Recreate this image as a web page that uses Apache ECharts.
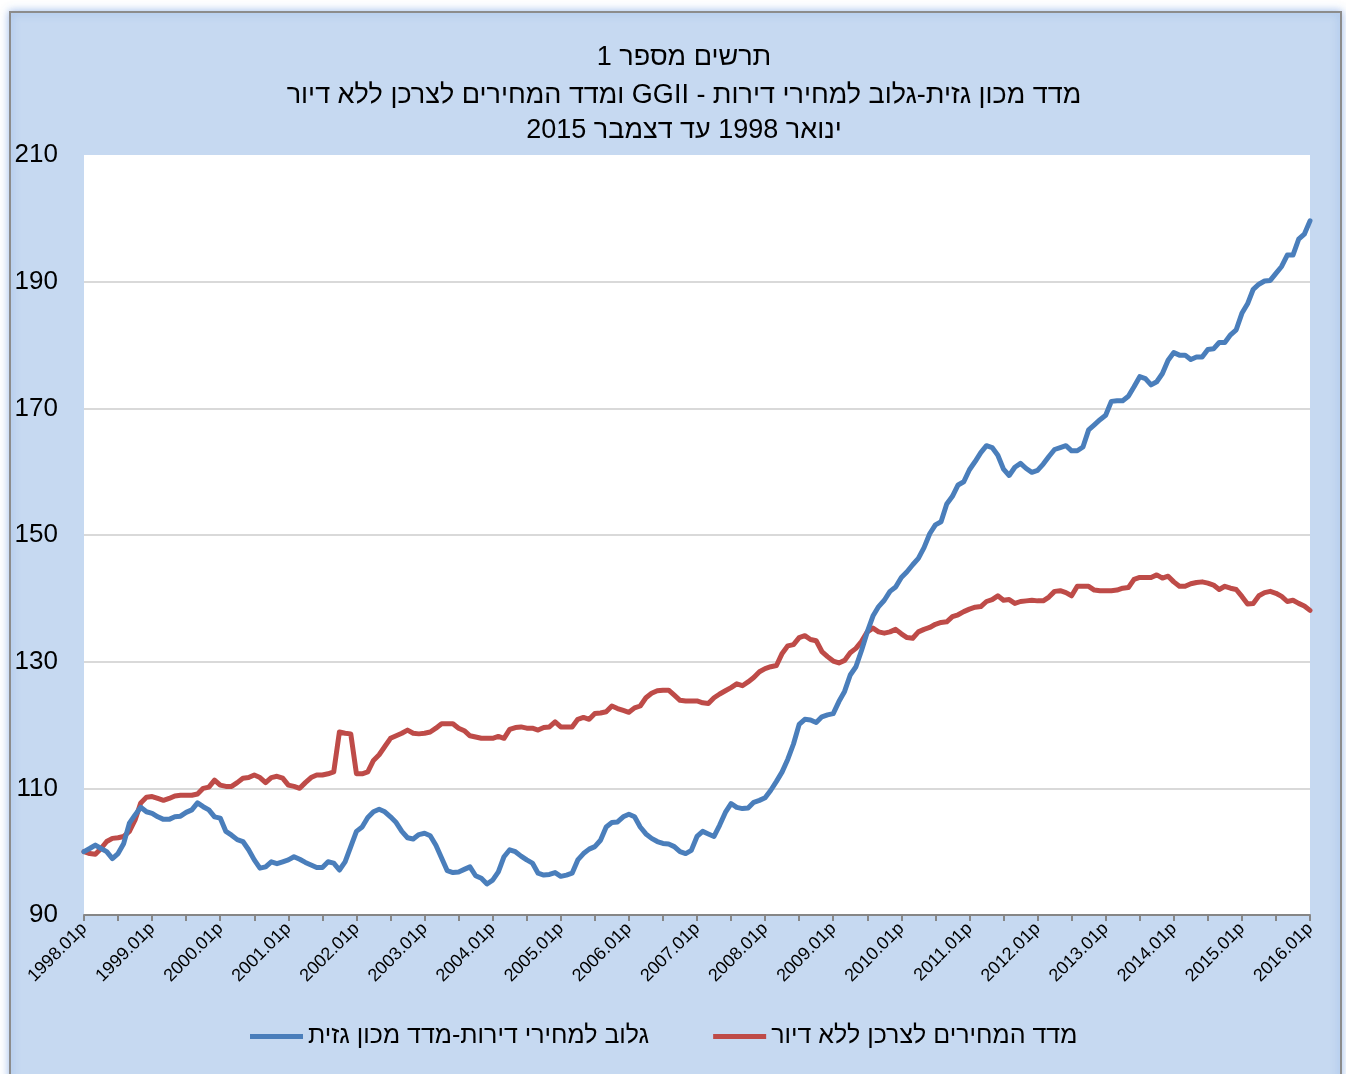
<!DOCTYPE html>
<html>
<head>
<meta charset="utf-8">
<script src="https://cdn.jsdelivr.net/npm/echarts@6/dist/echarts.min.js"></script>
<style>
  html, body { margin: 0; padding: 0; background: #fff; }
  #chart { width: 1346px; height: 1074px; }
</style>
</head>
<body>
<div id="chart"></div>
<script>
// RTL embedding so the mixed Hebrew / Latin text keeps its visual order
function rtl(s) { return '\u202B' + s + '\u202C'; }

var titleLines = [
    'תרשים מספר 1',
    'מדד מכון גזית-גלוב למחירי דירות - GGII ומדד המחירים לצרכן ללא דיור',
    'ינואר 1998 עד דצמבר 2015'
];
var nameGazit = 'גלוב למחירי דירות-מדד מכון גזית';
var nameCpi = 'מדד המחירים לצרכן ללא דיור';

// monthly categories 1998.01p .. 2016.01p
var months = [];
for (var y = 1998; y <= 2015; y++) {
    for (var m = 1; m <= 12; m++) {
        months.push(y + '.' + (m < 10 ? '0' + m : m) + 'p');
    }
}
months.push('2016.01p');

// Gazit-Globe home price index, one row per year
var gazitIndex = [
    100, 100.5, 101.05, 100.5, 100, 98.9, 99.7, 101.3, 104.5, 105.8, 107, 106.3,
    106.05, 105.5, 105.1, 105.1, 105.5, 105.6, 106.2, 106.6, 107.7, 107.1, 106.6, 105.5,
    105.3, 103.2, 102.6, 101.9, 101.6, 100.3, 98.7, 97.4, 97.6, 98.4, 98.1, 98.4,
    98.7, 99.2, 98.8, 98.3, 97.9, 97.5, 97.5, 98.4, 98.2, 97.1, 98.4, 100.8,
    103.2, 103.9, 105.4, 106.3, 106.7, 106.3, 105.5, 104.6, 103.2, 102.2, 102, 102.7,
    102.9, 102.5, 101, 99, 97, 96.7, 96.8, 97.2, 97.6, 96.2, 95.8, 94.9,
    95.5, 96.8, 99.2, 100.3, 100, 99.3, 98.7, 98.2, 96.6, 96.3, 96.4, 96.7,
    96.1, 96.3, 96.6, 98.7, 99.7, 100.4, 100.8, 101.8, 103.9, 104.6, 104.7, 105.5,
    105.9, 105.5, 103.9, 102.8, 102.1, 101.6, 101.3, 101.2, 100.8, 100, 99.7, 100.2,
    102.4, 103.2, 102.8, 102.4, 104.2, 106.2, 107.6, 107, 106.8, 106.9, 107.8, 108.1,
    108.5, 109.7, 111.1, 112.6, 114.6, 117, 120.1, 120.9, 120.8, 120.4, 121.3, 121.6,
    121.8, 123.7, 125.3, 127.9, 129.2, 131.8, 134.7, 137.2, 138.7, 139.7, 141.1, 141.8,
    143.3, 144.2, 145.3, 146.3, 148, 150.2, 151.6, 152.1, 154.9, 156.1, 157.9, 158.4,
    160.3, 161.6, 163, 164.1, 163.8, 162.6, 160.4, 159.4, 160.7, 161.3, 160.5, 159.9,
    160.2, 161.2, 162.4, 163.5, 163.8, 164.1, 163.3, 163.3, 163.9, 166.6, 167.4, 168.2,
    168.9, 171.1, 171.2, 171.2, 171.9, 173.4, 175, 174.7, 173.7, 174.2, 175.5, 177.6,
    178.8, 178.4, 178.4, 177.7, 178.1, 178.1, 179.3, 179.4, 180.4, 180.4, 181.6, 182.4,
    185, 186.5, 188.8, 189.6, 190.1, 190.2, 191.3, 192.4, 194.2, 194.2, 196.7, 197.5,
    199.6
];

// CPI excluding housing
var cpiExHousing = [
    100, 99.7, 99.6, 100.5, 101.6, 102.1, 102.2, 102.4, 103.2, 105, 107.7, 108.6,
    108.7, 108.4, 108.1, 108.4, 108.8, 108.9, 108.9, 108.9, 109.1, 110, 110.2, 111.3,
    110.5, 110.3, 110.3, 110.9, 111.6, 111.7, 112.1, 111.7, 110.9, 111.7, 111.9, 111.6,
    110.5, 110.3, 110, 110.9, 111.7, 112.1, 112.1, 112.3, 112.6, 118.9, 118.7, 118.6,
    112.3, 112.3, 112.6, 114.4, 115.3, 116.6, 117.9, 118.3, 118.7, 119.2, 118.7, 118.6,
    118.7, 118.9, 119.5, 120.2, 120.2, 120.2, 119.5, 119.1, 118.3, 118.1, 117.9, 117.9,
    117.9, 118.2, 117.9, 119.3, 119.6, 119.7, 119.5, 119.5, 119.2, 119.6, 119.7, 120.5,
    119.7, 119.7, 119.7, 120.9, 121.2, 120.9, 121.8, 121.9, 122.1, 123, 122.6, 122.3,
    122, 122.7, 123, 124.3, 125, 125.4, 125.5, 125.5, 124.7, 123.9, 123.8, 123.8,
    123.8, 123.5, 123.4, 124.3, 124.9, 125.4, 125.9, 126.5, 126.2, 126.8, 127.5, 128.4,
    128.9, 129.2, 129.4, 131.3, 132.5, 132.7, 133.8, 134.1, 133.5, 133.3, 131.6, 130.8,
    130.1, 129.8, 130.2, 131.4, 132.1, 133.2, 134.7, 135.3, 134.7, 134.5, 134.7, 135.1,
    134.4, 133.8, 133.7, 134.7, 135.1, 135.4, 135.9, 136.2, 136.3, 137.1, 137.4, 137.9,
    138.3, 138.6, 138.7, 139.5, 139.8, 140.4, 139.7, 139.8, 139.2, 139.5, 139.6, 139.7,
    139.6, 139.6, 140.2, 141.1, 141.2, 140.9, 140.4, 141.9, 141.9, 141.9, 141.3, 141.2,
    141.2, 141.2, 141.3, 141.6, 141.7, 143, 143.3, 143.3, 143.3, 143.7, 143.2, 143.5,
    142.6, 141.9, 141.9, 142.3, 142.5, 142.6, 142.4, 142.1, 141.4, 141.9, 141.6, 141.4,
    140.3, 139.1, 139.2, 140.4, 140.9, 141.1, 140.8, 140.3, 139.5, 139.7, 139.2, 138.8,
    138.1
];

var FONT = '"Liberation Sans", Arial, sans-serif';
var chart = echarts.init(document.getElementById('chart'));

var titleY = [58, 96, 131];
var graphics = [{
    type: 'rect',
    z: -10,
    shape: { x: 10, y: 12, width: 1331, height: 1100 },
    style: {
        fill: '#C6D9F1',
        stroke: '#8C8C8C',
        lineWidth: 2,
        shadowBlur: 8,
        shadowColor: 'rgba(90,140,220,0.55)'
    }
}];
titleLines.forEach(function (t, i) {
    graphics.push({
        type: 'text',
        x: 684,
        y: titleY[i],
        style: {
            text: rtl(t),
            font: '27px ' + FONT,
            fill: '#000',
            textAlign: 'center',
            textVerticalAlign: 'middle'
        }
    });
});

var option = {
    backgroundColor: '#fff',
    animation: false,
    graphic: graphics,
    grid: {
        left: 84,
        right: 36,
        top: 155,
        bottom: 159,
        show: true,
        backgroundColor: '#fff',
        borderWidth: 0
    },
    legend: {
        data: [
            { name: rtl(nameGazit), icon: 'rect' },
            { name: rtl(nameCpi), icon: 'rect' }
        ],
        left: 245,
        top: 1019,
        itemWidth: 53,
        itemHeight: 5,
        itemGap: 64,
        textStyle: { fontSize: 25, fontFamily: FONT, color: '#000' }
    },
    xAxis: {
        type: 'category',
        boundaryGap: false,
        data: months,
        axisLine: { lineStyle: { color: '#868686', width: 2 } },
        axisTick: {
            interval: 5,
            length: 6,
            lineStyle: { color: '#868686', width: 2 }
        },
        axisLabel: {
            interval: 11,
            rotate: 45,
            margin: 11,
            fontSize: 18,
            fontFamily: FONT,
            color: '#000'
        },
        splitLine: { show: false }
    },
    yAxis: {
        type: 'value',
        min: 90,
        max: 210,
        interval: 20,
        axisLine: { show: false },
        axisTick: { show: false },
        axisLabel: {
            margin: 26,
            fontSize: 26,
            fontFamily: FONT,
            color: '#000'
        },
        splitLine: {
            lineStyle: {
                color: ['transparent', '#D9D9D9', '#D9D9D9', '#D9D9D9', '#D9D9D9', '#D9D9D9', 'transparent'],
                width: 2
            }
        }
    },
    series: [
        {
            name: rtl(nameCpi),
            type: 'line',
            data: cpiExHousing,
            symbol: 'none',
            color: '#BE4B48',
            lineStyle: { width: 5, color: '#BE4B48', cap: 'round', join: 'round' }
        },
        {
            name: rtl(nameGazit),
            type: 'line',
            data: gazitIndex,
            symbol: 'none',
            color: '#4A7EBB',
            lineStyle: { width: 5, color: '#4A7EBB', cap: 'round', join: 'round' }
        }
    ]
};

chart.setOption(option);
window.onresize = function () {
    chart.resize();
};
</script>
</body>
</html>
